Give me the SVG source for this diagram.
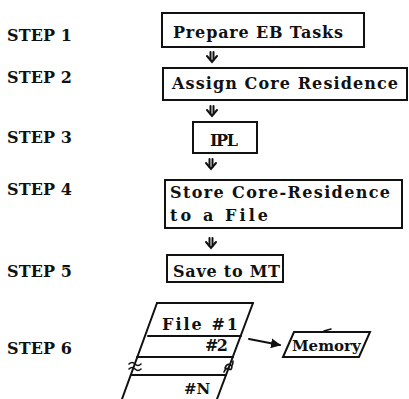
<svg xmlns="http://www.w3.org/2000/svg" width="409" height="399" viewBox="0 0 409 399">
<style>
  .lbl { font-family: "DejaVu Serif", "Liberation Serif", serif; font-size: 16px; font-weight: bold; fill: #111; }
  .txt { font-family: "DejaVu Serif", "Liberation Serif", serif; font-size: 16px; font-weight: bold; fill: #111; }
  .sm { font-size: 15px; }
  .box { fill: none; stroke: #111; stroke-width: 2; }
  .ln { fill: none; stroke: #111; stroke-width: 2; stroke-linecap: round; }
  .thin { fill: none; stroke: #111; stroke-width: 1.6; stroke-linecap: round; }
</style>
<defs>
  <g id="dbl">
    <path d="M-1.5,0 V8 M1.5,0 V8" class="ln"/>
    <path d="M-5,4 L0,10 L5,4" class="ln"/>
  </g>
  <marker id="ah" viewBox="0 0 10 10" refX="9" refY="5" markerWidth="5" markerHeight="5" orient="auto">
    <path d="M0,0 L10,5 L0,10 Z" fill="#111"/>
  </marker>
</defs>

<g id="labels">
  <text class="lbl" x="7" y="41" textLength="65" lengthAdjust="spacing">STEP 1</text>
  <text class="lbl" x="7" y="83" textLength="65" lengthAdjust="spacing">STEP 2</text>
  <text class="lbl" x="7" y="143" textLength="65" lengthAdjust="spacing">STEP 3</text>
  <text class="lbl" x="7" y="195" textLength="65" lengthAdjust="spacing">STEP 4</text>
  <text class="lbl" x="7" y="277" textLength="65" lengthAdjust="spacing">STEP 5</text>
  <text class="lbl" x="7" y="354" textLength="65" lengthAdjust="spacing">STEP 6</text>
</g>

<g id="step1">
  <rect class="box" x="162" y="13" width="202" height="34"/>
  <text class="txt" x="173" y="38" textLength="170" lengthAdjust="spacing">Prepare EB Tasks</text>
</g>
<g id="step2">
  <rect class="box" x="163" y="68" width="244" height="32"/>
  <text class="txt" x="172" y="89" textLength="226" lengthAdjust="spacing">Assign Core Residence</text>
</g>
<g id="step3">
  <rect class="box" x="193" y="122" width="64" height="31"/>
  <text class="txt" x="210" y="146" textLength="28" lengthAdjust="spacing">IPL</text>
</g>
<g id="step4">
  <rect class="box" x="165" y="180" width="237" height="48"/>
  <text class="txt" x="170" y="198" textLength="220" lengthAdjust="spacing">Store Core-Residence</text>
  <text class="txt" x="170" y="221" textLength="98" lengthAdjust="spacing">to a File</text>
</g>
<g id="step5">
  <rect class="box" x="167" y="255" width="116" height="27"/>
  <text class="txt" x="173" y="277" textLength="107" lengthAdjust="spacing">Save to MT</text>
</g>

<g id="file">
  <path class="ln" d="M157,303 L253,303"/>
  <path class="ln" d="M157,303 L122,399"/>
  <path class="ln" d="M253,303 L217,399"/>
  <path class="ln" d="M148,336 L241,336"/>
  <path class="ln" d="M137,357 L233,357"/>
  <path class="ln" d="M131,375 L226,375"/>
  <path class="thin" d="M129,364 q3,-3 6,0 t6,0 M129,369 q3,-3 6,0 t6,0"/>
  <path class="thin" d="M225,368 q2,-5 5,-3 t3,-4 M224,372 q2,-5 5,-3 t3,-4"/>
  <text class="txt" x="162" y="330" textLength="76" lengthAdjust="spacing">File #1</text>
  <text class="txt" x="205" y="351" textLength="23" lengthAdjust="spacing">#2</text>
  <text class="txt sm" x="184" y="394">#N</text>
</g>

<g id="memory">
  <path class="ln" d="M294,332 L370,332 L359,357 L283,357 Z"/>
  <path class="thin" d="M324,331 L331,329"/>
  <text class="txt sm" x="292" y="351">Memory</text>
</g>

<g id="connectors">
  <use href="#dbl" x="212" y="52"/>
  <use href="#dbl" x="212" y="106"/>
  <use href="#dbl" x="211" y="159"/>
  <use href="#dbl" x="211" y="238"/>
  <path class="ln" d="M249,339 L280,345" marker-end="url(#ah)"/>
</g>
</svg>
